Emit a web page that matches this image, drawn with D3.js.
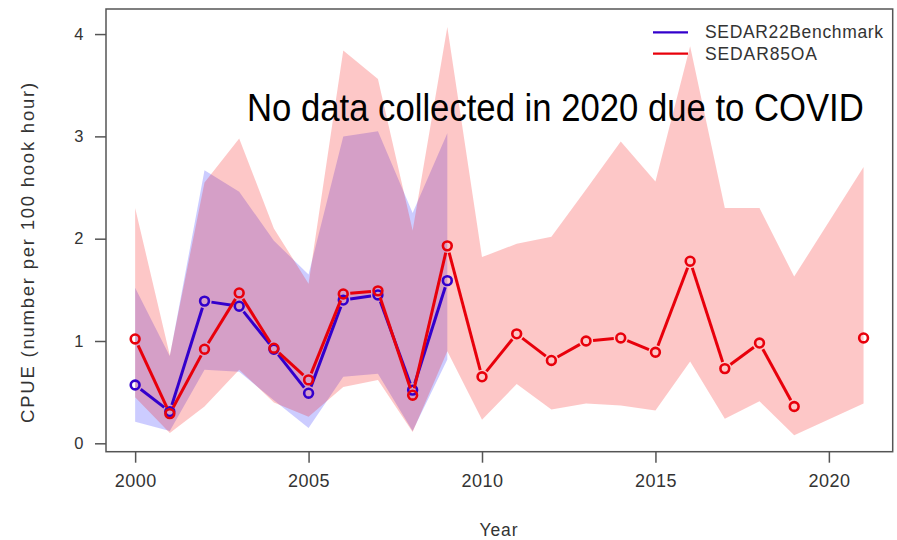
<!DOCTYPE html>
<html><head><meta charset="utf-8">
<script src="https://cdn.jsdelivr.net/npm/d3@7"></script>
<style>body{margin:0;background:#fff}svg{display:block}</style>
</head><body>
<svg id="c" width="897" height="540"></svg>
<script>
// ---- data ----
const years22 = [2000,2001,2002,2003,2004,2005,2006,2007,2008,2009];
const cpue22  = [0.57,0.31,1.39,1.34,0.92,0.49,1.40,1.45,0.52,1.59];
const lo22    = [0.21,0.12,0.72,0.70,0.42,0.15,0.65,0.68,0.12,0.82];
const hi22    = [1.52,0.85,2.67,2.46,1.98,1.65,3.00,3.05,2.25,3.03];

const years85 = [2000,2001,2002,2003,2004,2005,2006,2007,2008,2009,2010,2011,2012,2013,2014,2015,2016,2017,2018,2019,2020,2021];
const cpue85  = [1.02,0.29,0.92,1.47,0.93,0.62,1.46,1.49,0.47,1.93,0.65,1.07,0.81,1.00,1.03,0.89,1.78,0.73,0.98,0.36,null,1.03];
const lo85    = [0.45,0.10,0.36,0.72,0.40,0.26,0.55,0.62,0.11,0.90,0.23,0.58,0.33,0.39,0.37,0.32,0.80,0.24,0.41,0.08,null,0.39];
const hi85    = [2.30,0.86,2.55,2.98,2.10,1.56,3.84,3.56,2.08,4.07,1.82,1.95,2.02,2.48,2.95,2.56,3.88,2.30,2.30,1.63,null,2.70];

const xTicks = [2000,2005,2010,2015,2020];
const yTicks = [0,1,2,3,4];
const seriesNames = ["SEDAR22Benchmark","SEDAR85OA"];
const note = "No data collected in 2020 due to COVID";

// ---- layout ----
const svg = d3.select("#c");
const L=106, T=9, R=892.7, B=451.7;
const x = d3.scaleLinear().domain([1999.16,2021.84]).range([L,R]);
const y = d3.scaleLinear().domain([-0.082,4.245]).range([B,T]);
const blueLine="#3300cc", redLine="#e8000b";
const blueFill="rgba(40,40,255,0.24)", redFill="rgba(245,0,0,0.22)";
const txt="#333";
const font="Liberation Sans, Arial, sans-serif";

// fit a text to a target width by adjusting letter-spacing
function fitWidth(sel, target){
  const node=sel.node();
  const w=node.getComputedTextLength();
  const n=node.textContent.length;
  if(n>1) sel.attr("letter-spacing", ((target-w)/(n-1)).toFixed(3)+"px");
}

const d22 = years22.map((yr,i)=>({yr,v:cpue22[i],lo:lo22[i],hi:hi22[i]}));
const d85 = years85.map((yr,i)=>({yr,v:cpue85[i],lo:lo85[i],hi:hi85[i]}));

const area = d3.area().x(d=>x(d.yr)).y0(d=>y(d.lo)).y1(d=>y(d.hi));
svg.append("path").attr("d",area(d22)).attr("fill",blueFill);
svg.append("path").attr("d",area(d85.filter(d=>d.hi!=null))).attr("fill",redFill);

function drawSeries(data,color){
  const g=svg.append("g");
  const gap=7;
  for(let i=0;i<data.length-1;i++){
    const a=data[i], b=data[i+1];
    if(a.v==null||b.v==null) continue;
    const x1=x(a.yr),y1=y(a.v),x2=x(b.yr),y2=y(b.v);
    const len=Math.hypot(x2-x1,y2-y1);
    if(len<=2*gap) continue;
    const ux=(x2-x1)/len, uy=(y2-y1)/len;
    g.append("line").attr("x1",x1+ux*gap).attr("y1",y1+uy*gap)
      .attr("x2",x2-ux*gap).attr("y2",y2-uy*gap)
      .attr("stroke",color).attr("stroke-width",3);
  }
  g.selectAll("circle").data(data.filter(d=>d.v!=null)).join("circle")
    .attr("cx",d=>x(d.yr)).attr("cy",d=>y(d.v)).attr("r",4.4)
    .attr("fill","none").attr("stroke",color).attr("stroke-width",2.6);
}
drawSeries(d22,blueLine);
drawSeries(d85,redLine);

// box
svg.append("rect").attr("x",L).attr("y",T).attr("width",R-L).attr("height",B-T)
  .attr("fill","none").attr("stroke","#555").attr("stroke-width",1.5);

// axes
const ya = svg.append("g").attr("transform",`translate(${L},0)`)
  .call(d3.axisLeft(y).tickValues(yTicks).tickFormat(d3.format("d")).tickSize(11).tickPadding(11.5));
const xa = svg.append("g").attr("transform",`translate(0,${B})`)
  .call(d3.axisBottom(x).tickValues(xTicks).tickFormat(d3.format("d")).tickSize(11).tickPadding(10));
[ya,xa].forEach(a=>{
  a.select(".domain").remove();
  a.selectAll("line").attr("stroke","#555").attr("stroke-width",1.5);
  a.selectAll("text").attr("fill",txt).style("font-family",font);
});
ya.selectAll("text").style("font-size","16.5px");
xa.selectAll("text").style("font-size","18px").attr("dy","0.78em")
  .each(function(){ fitWidth(d3.select(this),41.5); });

// axis titles
const yt = svg.append("text").attr("transform","translate(34,252) rotate(-90)").attr("text-anchor","middle")
  .attr("fill",txt).style("font-family",font).style("font-size","18.5px")
  .text("CPUE (number per 100 hook hour)");
fitWidth(yt,340);
const xt = svg.append("text").attr("x",499).attr("y",535.5).attr("text-anchor","middle")
  .attr("fill",txt).style("font-family",font).style("font-size","17.5px")
  .text("Year");
fitWidth(xt,38);

// legend
const lg = svg.append("g");
const legLen=[178,112];
[blueLine,redLine].forEach((c,i)=>{
  const yy = 32.3 + i*21.3;
  lg.append("line").attr("x1",653).attr("x2",688).attr("y1",yy).attr("y2",yy).attr("stroke",c).attr("stroke-width",2.2);
  const t = lg.append("text").attr("x",705).attr("y",yy+6).attr("fill",txt)
    .style("font-family",font).style("font-size","17.5px")
    .text(seriesNames[i]);
  fitWidth(t,legLen[i]);
});

// annotation (condensed horizontally, like a narrow face)
const an = svg.append("text").attr("x",0).attr("y",0).attr("fill","#000")
  .style("font-family",font).style("font-size","39.5px")
  .text(note);
const anW = an.node().getComputedTextLength();
an.attr("transform",`translate(247,120.5) scale(${(617/anW).toFixed(4)},1)`);
</script>
</body></html>
